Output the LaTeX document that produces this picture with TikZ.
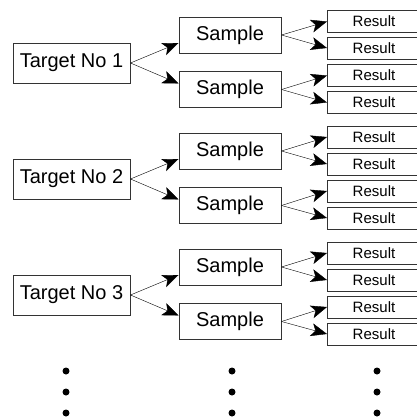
\documentclass[tikz,border=0pt]{standalone}
\usepackage{fontspec}
\setmainfont{Liberation Sans}
\usetikzlibrary{arrows.meta}

\begin{document}
\begin{tikzpicture}[x=1pt,y=-1pt,>={Stealth[length=16pt,width=13pt,inset=4pt]},
  targetbox/.style={draw=black!80,line width=1pt,rectangle,inner sep=0pt,minimum width=117pt,minimum height=40pt,font=\fontsize{20}{24}\selectfont},
  samplebox/.style={draw=black!80,line width=1pt,rectangle,inner sep=0pt,minimum width=102pt,minimum height=36pt,font=\fontsize{20}{24}\selectfont},
  resultbox/.style={draw=black!80,line width=1pt,rectangle,inner sep=0pt,minimum width=93pt,minimum height=22pt,font=\fontsize{15}{18}\selectfont}]
\useasboundingbox (0,0) rectangle (417,418);
\node[targetbox] (t1) at (71.5,63)   {Target No 1};
\node[targetbox] (t2) at (71.5,179)  {Target No 2};
\node[targetbox] (t3) at (71.5,295)  {Target No 3};
\node[samplebox] (s1) at (230,35)    {Sample};
\node[samplebox] (s2) at (230,89.5)  {Sample};
\node[samplebox] (s3) at (230,151)   {Sample};
\node[samplebox] (s4) at (230,205.5) {Sample};
\node[samplebox] (s5) at (230,267)   {Sample};
\node[samplebox] (s6) at (230,321.5) {Sample};
\node[resultbox] (r1)  at (374,21.5)  {Result};
\node[resultbox] (r2)  at (374,48)    {Result};
\node[resultbox] (r3)  at (374,75.5)  {Result};
\node[resultbox] (r4)  at (374,102.5) {Result};
\node[resultbox] (r5)  at (374,137)   {Result};
\node[resultbox] (r6)  at (374,164)   {Result};
\node[resultbox] (r7)  at (374,191)   {Result};
\node[resultbox] (r8)  at (374,218)   {Result};
\node[resultbox] (r9)  at (374,253)   {Result};
\node[resultbox] (r10) at (374,280)   {Result};
\node[resultbox] (r11) at (374,307)   {Result};
\node[resultbox] (r12) at (374,334)   {Result};
\draw[->] (t1.east) -- ([yshift=-8pt]s1.west);
\draw[->] (t1.east) -- ([yshift=6pt]s2.west);
\draw[->] (t2.east) -- ([yshift=-8pt]s3.west);
\draw[->] (t2.east) -- ([yshift=6pt]s4.west);
\draw[->] (t3.east) -- ([yshift=-8pt]s5.west);
\draw[->] (t3.east) -- ([yshift=6pt]s6.west);
\draw[->] (s1.east) -- (r1.west);
\draw[->] (s1.east) -- (r2.west);
\draw[->] (s2.east) -- (r3.west);
\draw[->] (s2.east) -- (r4.west);
\draw[->] (s3.east) -- (r5.west);
\draw[->] (s3.east) -- (r6.west);
\draw[->] (s4.east) -- (r7.west);
\draw[->] (s4.east) -- (r8.west);
\draw[->] (s5.east) -- (r9.west);
\draw[->] (s5.east) -- (r10.west);
\draw[->] (s6.east) -- (r11.west);
\draw[->] (s6.east) -- (r12.west);
% dots below each column
\fill (66,371) circle (3.5) (66,392) circle (3.5) (66,413) circle (3.5);
\fill (232,371) circle (3.5) (232,392) circle (3.5) (232,413) circle (3.5);
\fill (377,371) circle (3.5) (377,392) circle (3.5) (377,413) circle (3.5);
\end{tikzpicture}
\end{document}
